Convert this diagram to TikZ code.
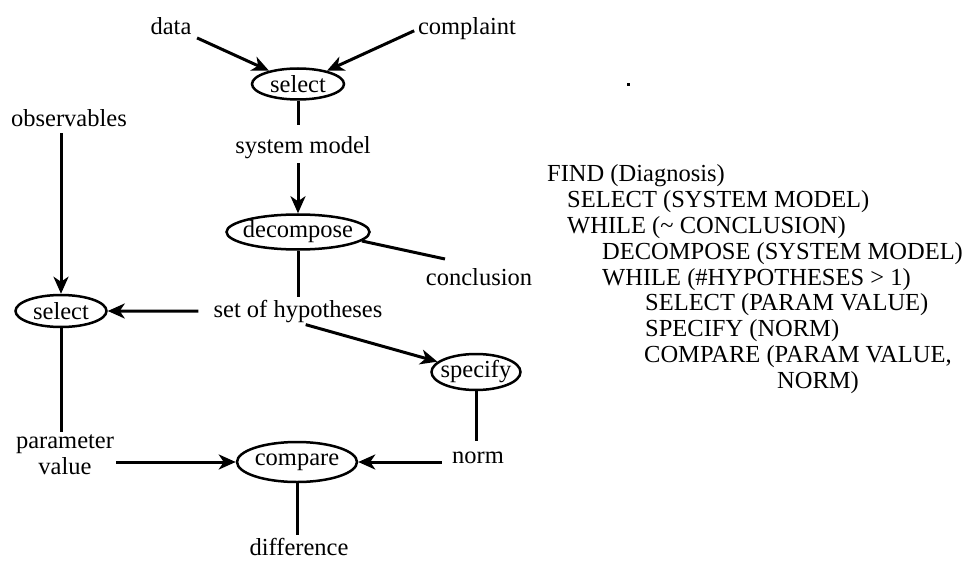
\documentclass[tikz,border=0pt]{standalone}
\usepackage{fontspec}
\setmainfont{Liberation Serif}
\usetikzlibrary{arrows.meta,shapes.geometric}
\begin{document}
\begin{tikzpicture}[x=1pt,y=-1pt,
  every node/.style={font=\fontsize{24.5}{25.8}\selectfont, inner sep=0pt},
  lbl/.style={anchor=base},
  ell/.style={ellipse, draw, line width=2.5pt},
  wire/.style={line width=3pt},
  arr/.style={line width=3pt, -{Stealth[length=17pt,width=15pt,inset=5pt]}},
  code/.style={anchor=base west}]
\useasboundingbox (0,0) rectangle (965,561);

% diagnosis task structure
\node[lbl] (data) at (171,35) {data};
\node[lbl] (compl) at (467,35) {complaint};
\node[ell, minimum width=92pt, minimum height=31pt, label=center:select] (sel1) at (298,84) {};
\node[lbl] (sysm) at (303,154) {system model};
\node[ell, minimum width=143pt, minimum height=35pt, label=center:decompose] (dec) at (298,232) {};
\node[lbl] (concl) at (479,285) {conclusion};
\node[lbl] (hyp) at (298,317) {set of hypotheses};
\node[lbl] (obs) at (69,127) {observables};
\node[ell, minimum width=91pt, minimum height=32pt, label=center:select] (sel2) at (61,311) {};
\node[ell, minimum width=89pt, minimum height=36pt, label=center:specify] (spec) at (476,372) {};
\node[align=center] (pval) at (65,455) {parameter\\value};
\node[lbl] (norm) at (478,463) {norm};
\node[ell, minimum width=120pt, minimum height=40pt, label=center:compare] (comp) at (297,462) {};
\node[lbl] (diff) at (299,555) {difference};
\coordinate (conclend) at (445,259);

\draw[arr, shorten <=6pt] (data.south east) -- (sel1);
\draw[arr, shorten <=4pt] (compl.west) -- (sel1);
\draw[wire, shorten >=12pt] (sel1.south) -- (sel1.south |- sysm.north);
\draw[arr, shorten <=4pt] (sysm.south -| dec.north) -- (dec.north);
\draw[wire] (dec.-8) -- (conclend);
\draw[wire, shorten >=3pt] (dec.south) -- (dec.south |- hyp.north);
\draw[arr, shorten <=15pt] (hyp.west) -- (sel2.east);
\draw[arr, shorten <=8pt] (hyp.south) -- (spec.165);
\draw[arr, shorten <=6pt] (obs.south -| sel2.north) -- (sel2.north);
\draw[wire, shorten >=3pt] (sel2.south) -- (sel2.south |- pval.north);
\draw[arr, shorten <=2pt] (pval.east |- comp.west) -- (comp.west);
\draw[wire, shorten >=10pt] (spec.south) -- (spec.south |- norm.north);
\draw[arr, shorten <=10pt] (norm.west |- comp.east) -- (comp.east);
\draw[wire, shorten >=3pt] (comp.south) -- (comp.south |- diff.north);

% stray dot
\fill (626.5,83.5) rectangle (629.5,86.5);

% pseudo-code
\node[code] (c1) at (547,182) {FIND (Diagnosis)};
\node[code] (c2) at (567,207.75) {SELECT (SYSTEM MODEL)};
\node[code] (c3) at (567,233.5) {WHILE (\textasciitilde{} CONCLUSION)};
\node[code] (c4) at (602,259.25) {DECOMPOSE (SYSTEM MODEL)};
\node[code] (c5) at (602,285) {WHILE (\#HYPOTHESES > 1)};
\node[code] (c6) at (645,310.75) {SELECT (PARAM VALUE)};
\node[code] (c7) at (645,336.5) {SPECIFY (NORM)};
\node[code] (c8) at (644,362.25) {COMPARE (PARAM VALUE,};
\node[code] (c9) at (777,388) {NORM)};
\end{tikzpicture}
\end{document}
